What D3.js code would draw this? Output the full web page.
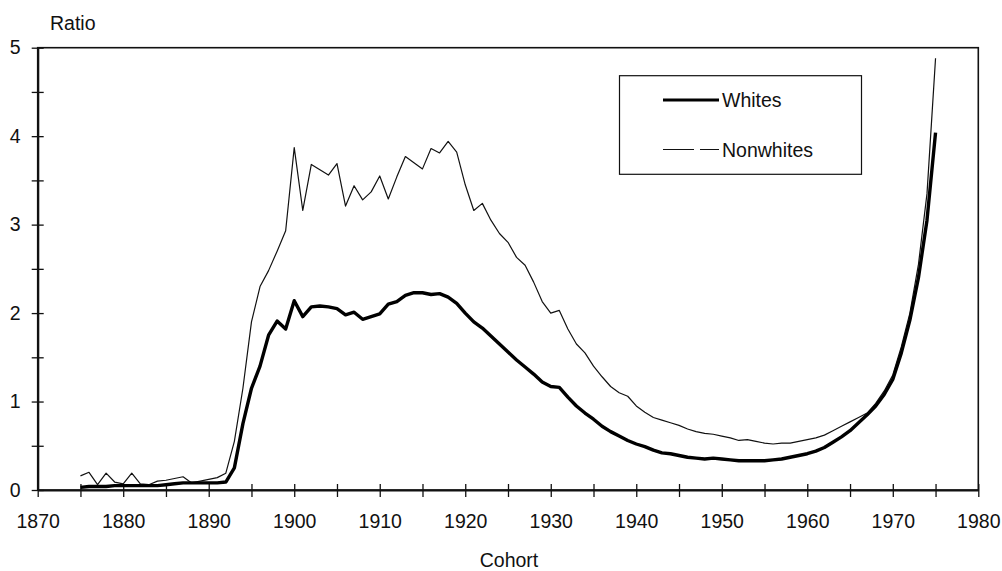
<!DOCTYPE html>
<html>
<head>
<meta charset="utf-8">
<script src="https://cdn.jsdelivr.net/npm/d3@7/dist/d3.min.js"></script>
<style>
  html, body { margin: 0; padding: 0; background: #fff; }
  svg { display: block; }
  text { font-family: "Liberation Sans", Arial, sans-serif; fill: #111; }
</style>
</head>
<body>
<svg id="chart" width="1002" height="571"></svg>
<script>
const years = d3.range(1875, 1976);

const whites = [
  0.03, 0.04, 0.04, 0.04, 0.05, 0.05, 0.05, 0.05, 0.05, 0.05,
  0.06, 0.07, 0.08, 0.08, 0.08, 0.08, 0.08, 0.09, 0.25, 0.75,
  1.15, 1.40, 1.75, 1.91, 1.82, 2.14, 1.96, 2.07, 2.08, 2.07,
  2.05, 1.98, 2.01, 1.93, 1.96, 1.99, 2.10, 2.13, 2.20, 2.23,
  2.23, 2.21, 2.22, 2.18, 2.11, 2.00, 1.90, 1.83, 1.74, 1.65,
  1.56, 1.47, 1.39, 1.31, 1.22, 1.17, 1.16, 1.05, 0.95, 0.87,
  0.80, 0.72, 0.66, 0.61, 0.56, 0.52, 0.49, 0.45, 0.42, 0.41,
  0.39, 0.37, 0.36, 0.35, 0.36, 0.35, 0.34, 0.33, 0.33, 0.33,
  0.33, 0.34, 0.35, 0.37, 0.39, 0.41, 0.44, 0.48, 0.54, 0.60,
  0.67, 0.76, 0.85, 0.95, 1.08, 1.25, 1.55, 1.92, 2.40, 3.05,
  4.04
];

const nonwhites = [
  0.16, 0.20, 0.06, 0.19, 0.09, 0.07, 0.19, 0.07, 0.06, 0.10,
  0.11, 0.13, 0.15, 0.08, 0.10, 0.12, 0.14, 0.19, 0.55, 1.15,
  1.90, 2.30, 2.48, 2.70, 2.93, 3.87, 3.16, 3.68, 3.62, 3.56,
  3.69, 3.21, 3.44, 3.28, 3.37, 3.55, 3.29, 3.54, 3.77, 3.70,
  3.63, 3.86, 3.81, 3.94, 3.82, 3.45, 3.16, 3.24, 3.05, 2.90,
  2.80, 2.63, 2.54, 2.35, 2.13, 2.00, 2.03, 1.82, 1.65, 1.55,
  1.40, 1.28, 1.17, 1.10, 1.06, 0.95, 0.88, 0.82, 0.79, 0.76,
  0.73, 0.69, 0.66, 0.64, 0.63, 0.61, 0.59, 0.56, 0.57, 0.55,
  0.53, 0.52, 0.53, 0.53, 0.55, 0.57, 0.59, 0.62, 0.67, 0.72,
  0.77, 0.82, 0.87, 0.98, 1.12, 1.30, 1.62, 2.00, 2.55, 3.35,
  4.88
];

const xTicks = d3.range(1870, 1981, 5);
const yTicks = d3.range(0, 5.01, 0.5);
const seriesNames = ["Whites", "Nonwhites"];

const svg = d3.select("#chart");
const pLeft = 37.7, pRight = 978.3, pTop = 47.7, pBottom = 490;
const x = d3.scaleLinear().domain([1870, 1980]).range([pLeft, pRight]);
const y = d3.scaleLinear().domain([0, 5]).range([pBottom, pTop]);
const FS = 19.5;

// frame
svg.append("rect")
  .attr("x", pLeft).attr("y", pTop)
  .attr("width", pRight - pLeft).attr("height", pBottom - pTop)
  .attr("fill", "none").attr("stroke", "#111").attr("stroke-width", 1.6);

// x axis
const gx = svg.append("g").attr("transform", `translate(0,${pBottom})`)
  .call(d3.axisBottom(x).tickValues(xTicks).tickSize(0).tickPadding(24)
    .tickFormat(d => d % 10 === 0 ? d : ""));
gx.select(".domain").attr("stroke", "#111").attr("stroke-width", 2.2);
gx.selectAll(".tick line").attr("y1", -6).attr("y2", 7).attr("stroke", "#111").attr("stroke-width", 1.3);
gx.selectAll("text").attr("font-size", FS).attr("font-family", "Liberation Sans, Arial, sans-serif").attr("fill", "#111");

// y axis
const gy = svg.append("g").attr("transform", `translate(${pLeft},0)`)
  .call(d3.axisLeft(y).tickValues(yTicks).tickSize(0).tickPadding(17)
    .tickFormat(d => Number.isInteger(d) ? d : ""));
gy.select(".domain").attr("stroke", "#111").attr("stroke-width", 2.2);
gy.selectAll(".tick line").attr("x1", -6).attr("x2", 6).attr("stroke", "#111").attr("stroke-width", 1.3);
gy.selectAll("text").attr("font-size", FS).attr("font-family", "Liberation Sans, Arial, sans-serif").attr("fill", "#111");

// axis titles
svg.append("text").attr("x", 50).attr("y", 29.5).attr("font-size", FS).text("Ratio");
svg.append("text").attr("x", 509).attr("y", 567).attr("text-anchor", "middle").attr("font-size", FS).text("Cohort");

// lines
const line = vals => d3.line().x((d, i) => x(years[i])).y(d => y(d))(vals);
svg.append("path").attr("d", line(nonwhites))
  .attr("fill", "none").attr("stroke", "#111").attr("stroke-width", 1.2).attr("stroke-linejoin", "round");
svg.append("path").attr("d", line(whites))
  .attr("fill", "none").attr("stroke", "#000").attr("stroke-width", 3.4).attr("stroke-linejoin", "round");

// legend
const lg = svg.append("g");
lg.append("rect").attr("x", 619.5).attr("y", 75.7).attr("width", 242).attr("height", 98.6)
  .attr("fill", "#fff").attr("stroke", "#111").attr("stroke-width", 1.2);
lg.append("line").attr("x1", 663).attr("x2", 719).attr("y1", 100).attr("y2", 100)
  .attr("stroke", "#000").attr("stroke-width", 3.2);
lg.append("line").attr("x1", 663).attr("x2", 719).attr("y1", 149.5).attr("y2", 149.5)
  .attr("stroke", "#111").attr("stroke-width", 1.2).attr("stroke-dasharray", "31,6,19");
lg.append("text").attr("x", 722).attr("y", 106.7).attr("font-size", FS).text(seriesNames[0]);
lg.append("text").attr("x", 722).attr("y", 156.5).attr("font-size", FS).text(seriesNames[1]);
</script>
</body>
</html>
